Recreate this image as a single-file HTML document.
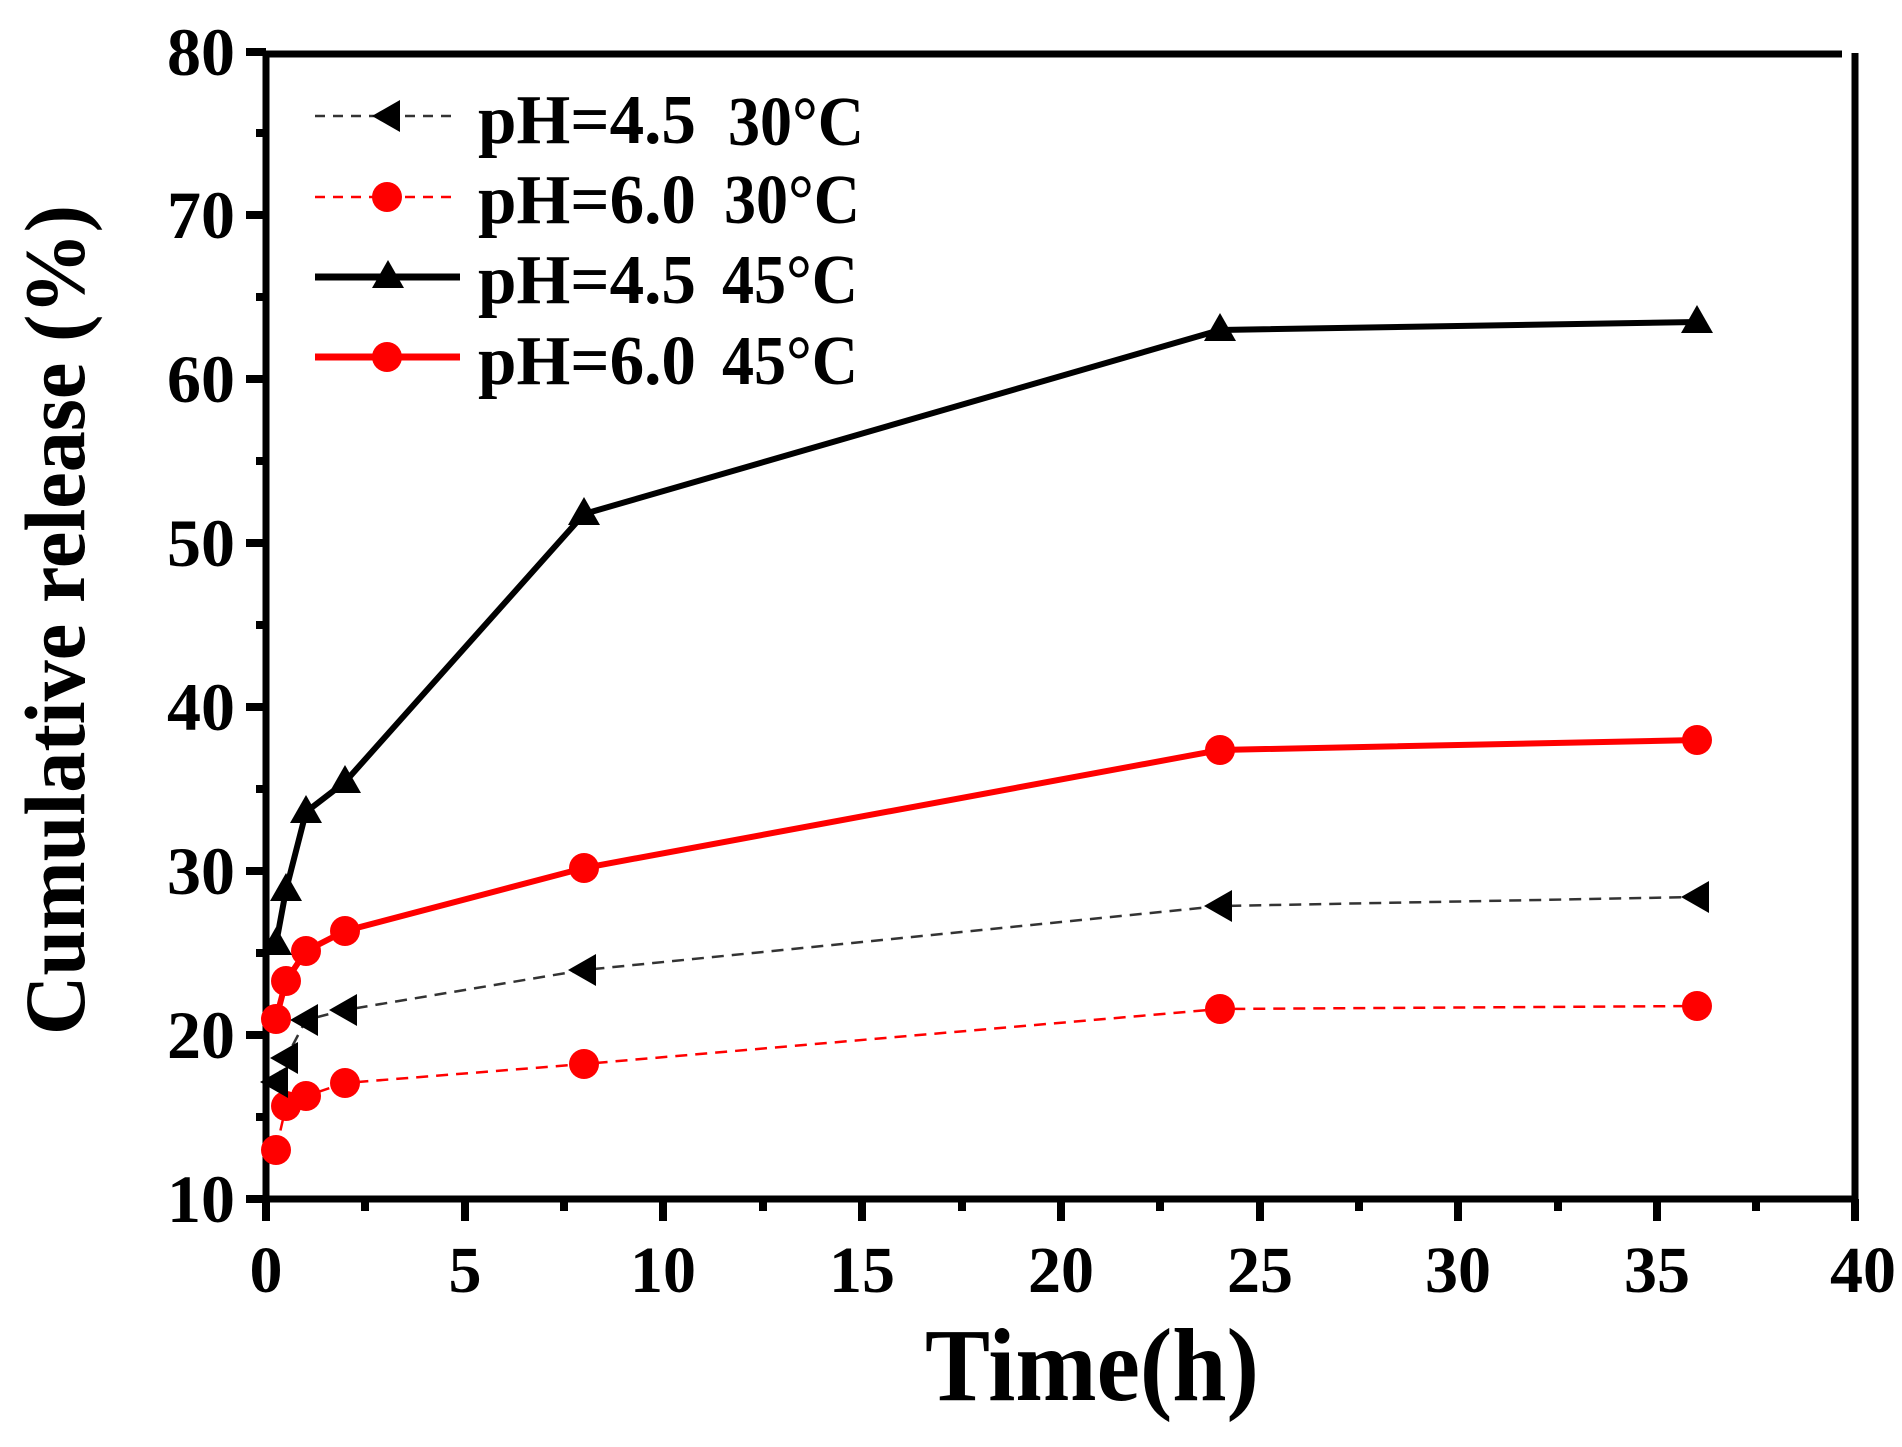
<!DOCTYPE html>
<html><head><meta charset="utf-8"><style>html,body{margin:0;padding:0;background:#fff}svg{display:block}svg text{font-family:"Liberation Serif","Times New Roman",serif;font-weight:bold}</style></head>
<body>
<svg width="1902" height="1447" viewBox="0 0 1902 1447" xmlns="http://www.w3.org/2000/svg">
<defs>
<g id="tu"><path d="M0,-17 L16,11 L-16,11 Z" fill="#000"/></g>
<g id="tl"><path d="M-16,0 L12,-16 L12,16 Z" fill="#000"/></g>
</defs>
<g stroke="#000" stroke-width="7" fill="none">
<line x1="266" y1="1199" x2="1856" y2="1199"/>
<line x1="266" y1="52" x2="266" y2="1203"/>
<line x1="263" y1="54" x2="1842" y2="54"/>
<line x1="1855" y1="53" x2="1855" y2="1203"/>
</g>
<g stroke="#000" stroke-width="8">
<line x1="246" y1="1199" x2="266" y2="1199"/><line x1="256" y1="1117" x2="266" y2="1117"/>
<line x1="246" y1="1035" x2="266" y2="1035"/><line x1="256" y1="953" x2="266" y2="953"/>
<line x1="246" y1="871" x2="266" y2="871"/><line x1="256" y1="789" x2="266" y2="789"/>
<line x1="246" y1="707" x2="266" y2="707"/><line x1="256" y1="625" x2="266" y2="625"/>
<line x1="246" y1="543" x2="266" y2="543"/><line x1="256" y1="461" x2="266" y2="461"/>
<line x1="246" y1="379" x2="266" y2="379"/><line x1="256" y1="297" x2="266" y2="297"/>
<line x1="246" y1="215" x2="266" y2="215"/><line x1="256" y1="133" x2="266" y2="133"/>
<line x1="246" y1="52" x2="266" y2="52"/>
</g>
<g stroke="#000" stroke-width="8">
<line x1="266" y1="1199" x2="266" y2="1221"/><line x1="365" y1="1199" x2="365" y2="1211"/>
<line x1="465" y1="1199" x2="465" y2="1221"/><line x1="564" y1="1199" x2="564" y2="1211"/>
<line x1="663" y1="1199" x2="663" y2="1221"/><line x1="763" y1="1199" x2="763" y2="1211"/>
<line x1="862" y1="1199" x2="862" y2="1221"/><line x1="962" y1="1199" x2="962" y2="1211"/>
<line x1="1061" y1="1199" x2="1061" y2="1221"/><line x1="1160" y1="1199" x2="1160" y2="1211"/>
<line x1="1260" y1="1199" x2="1260" y2="1221"/><line x1="1359" y1="1199" x2="1359" y2="1211"/>
<line x1="1458" y1="1199" x2="1458" y2="1221"/><line x1="1558" y1="1199" x2="1558" y2="1211"/>
<line x1="1657" y1="1199" x2="1657" y2="1221"/><line x1="1756" y1="1199" x2="1756" y2="1211"/>
<line x1="1855" y1="1199" x2="1855" y2="1221"/>
</g>
<g font-size="68" text-anchor="end">
<text x="235" y="1222">10</text><text x="235" y="1058">20</text><text x="235" y="894">30</text>
<text x="235" y="730">40</text><text x="235" y="566">50</text><text x="235" y="402">60</text>
<text x="235" y="238">70</text><text x="235" y="75">80</text>
</g>
<g font-size="66" text-anchor="middle">
<text x="266" y="1292">0</text><text x="465" y="1292">5</text><text x="663" y="1292">10</text>
<text x="862" y="1292">15</text><text x="1061" y="1292">20</text><text x="1260" y="1292">25</text>
<text x="1458" y="1292">30</text><text x="1657" y="1292">35</text><text x="1863" y="1292">40</text>
</g>
<text x="1092" y="1400" font-size="104" text-anchor="middle" textLength="334" lengthAdjust="spacingAndGlyphs">Time(h)</text>
<text transform="translate(84,620) rotate(-90)" font-size="86" text-anchor="middle" textLength="830" lengthAdjust="spacingAndGlyphs">Cumulative release (%)</text>

<polyline fill="none" stroke="#f00" stroke-width="2.5" stroke-dasharray="12,8" points="276,1150 286,1106 306,1096 345,1083 584,1064 1220,1009 1697,1006"/>
<g fill="#f00">
<circle cx="276" cy="1150" r="15"/><circle cx="286" cy="1106" r="15"/><circle cx="306" cy="1096" r="15"/><circle cx="345" cy="1083" r="15"/><circle cx="584" cy="1064" r="15"/><circle cx="1220" cy="1009" r="15"/><circle cx="1697" cy="1006" r="15"/>
</g>
<polyline fill="none" stroke="#333" stroke-width="2.5" stroke-dasharray="12,8" points="276,1082 286,1058 306,1020 345,1010 584,970 1220,906 1697,897"/>
<g>
<use href="#tl" x="276" y="1082"/><use href="#tl" x="286" y="1058"/><use href="#tl" x="306" y="1020"/><use href="#tl" x="345" y="1010"/><use href="#tl" x="584" y="970"/><use href="#tl" x="1220" y="906"/><use href="#tl" x="1697" y="897"/>
</g>
<polyline fill="none" stroke="#f00" stroke-width="6" points="276,1019 286,981 306,951 345,931 584,868 1220,750 1697,740"/>
<g fill="#f00">
<circle cx="276" cy="1019" r="15"/><circle cx="286" cy="981" r="15"/><circle cx="306" cy="951" r="15"/><circle cx="345" cy="931" r="15"/><circle cx="584" cy="868" r="15"/><circle cx="1220" cy="750" r="15"/><circle cx="1697" cy="740" r="15"/>
</g>
<polyline fill="none" stroke="#000" stroke-width="6" points="276,944 286,890 306,812 345,782 584,514 1220,330 1697,322"/>
<g>
<use href="#tu" x="276" y="944"/><use href="#tu" x="286" y="890"/><use href="#tu" x="306" y="812"/><use href="#tu" x="345" y="782"/><use href="#tu" x="584" y="514"/><use href="#tu" x="1220" y="330"/><use href="#tu" x="1697" y="322"/>
</g>

<line x1="315" y1="116" x2="455" y2="116" stroke="#333" stroke-width="2.5" stroke-dasharray="10,8"/>
<use href="#tl" x="388" y="116"/>
<line x1="315" y1="197" x2="455" y2="197" stroke="#f00" stroke-width="2.5" stroke-dasharray="10,8"/>
<circle cx="387" cy="197" r="15" fill="#f00"/>
<line x1="315" y1="277" x2="460" y2="277" stroke="#000" stroke-width="7"/>
<use href="#tu" x="388" y="277"/>
<line x1="315" y1="357" x2="460" y2="357" stroke="#f00" stroke-width="7"/>
<circle cx="387" cy="357" r="15" fill="#f00"/>
<g font-size="70">
<text x="478" y="143" textLength="218" lengthAdjust="spacingAndGlyphs">pH=4.5</text>
<text x="728" y="145" textLength="136" lengthAdjust="spacingAndGlyphs">30°C</text>
<text x="478" y="223" textLength="218" lengthAdjust="spacingAndGlyphs">pH=6.0</text>
<text x="724" y="223" textLength="136" lengthAdjust="spacingAndGlyphs">30°C</text>
<text x="478" y="303" textLength="218" lengthAdjust="spacingAndGlyphs">pH=4.5</text>
<text x="722" y="303" textLength="136" lengthAdjust="spacingAndGlyphs">45°C</text>
<text x="478" y="384" textLength="218" lengthAdjust="spacingAndGlyphs">pH=6.0</text>
<text x="722" y="384" textLength="136" lengthAdjust="spacingAndGlyphs">45°C</text>
</g>
</svg>
</body></html>
